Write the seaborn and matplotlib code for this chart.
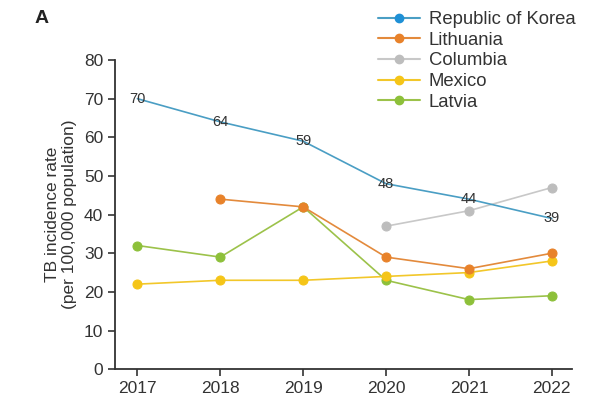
import matplotlib
matplotlib.use("Agg")
import matplotlib.pyplot as plt
from matplotlib.lines import Line2D
import seaborn as sns
import pandas as pd

years = [2017, 2018, 2019, 2020, 2021, 2022]
korea = [70, 64, 59, 48, 44, 39]
lithuania = [None, 44, 42, 29, 26, 30]
columbia = [None, None, None, 37, 41, 47]
mexico = [22, 23, 23, 24, 25, 28]
latvia = [32, 29, 42, 23, 18, 19]

series_names = ["Republic of Korea", "Lithuania", "Columbia", "Mexico", "Latvia"]
series_values = [korea, lithuania, columbia, mexico, latvia]
colors = ["#4A9EC4", "#E38A3C", "#C8C8C8", "#F2C72A", "#9CC24A"]
dot_colors = ["#1E90D6", "#E8822A", "#BDBDBD", "#F5C518", "#8DC03A"]

rows = []
for name, vals in zip(series_names, series_values):
    for y, v in zip(years, vals):
        if v is not None:
            rows.append({"year": y, "rate": v, "country": name})
df = pd.DataFrame(rows)

sns.set_style("ticks")
plt.rcParams["font.family"] = ["Liberation Sans", "DejaVu Sans"]

fig = plt.figure(figsize=(5.9, 4.03), dpi=100)
ax = fig.add_axes([0.195, 0.084, 0.774, 0.767])

# draw back to front so Korea sits on top
for name, lc, mc in list(zip(series_names, colors, dot_colors))[::-1]:
    sub = df[df["country"] == name]
    is_korea = name == "Republic of Korea"
    sns.lineplot(data=sub, x="year", y="rate", ax=ax, color=lc, linewidth=1.2,
                 marker=None if is_korea else "o", markersize=6.5,
                 markerfacecolor=mc, markeredgecolor=mc, legend=False)

for y, v in zip(years, korea):
    ax.text(y, v, str(v), ha="center", va="center", fontsize=10.5, color="#333333")

ax.set_xlim(2016.73, 2022.24)
ax.set_ylim(0, 80)
ax.set_xticks(years)
ax.set_yticks(range(0, 81, 10))
ax.tick_params(axis="both", labelsize=12.5, colors="#333333", length=5, width=1.2)
for s in ["left", "bottom"]:
    ax.spines[s].set_linewidth(1.3)
    ax.spines[s].set_color("#333333")
sns.despine(ax=ax)
ax.set_xlabel("")
ax.set_ylabel("TB incidence rate\n(per 100,000 population)", fontsize=12.5,
              color="#333333", labelpad=5)

handles = [Line2D([0], [0], color=lc, marker="o", markersize=6, markerfacecolor=mc,
                  markeredgecolor=mc, linewidth=1.5)
           for lc, mc in zip(colors, dot_colors)]
fig.legend(handles, series_names, loc="upper left", bbox_to_anchor=(0.612, 1.014),
           frameon=False, fontsize=13.3, handlelength=2.3, handletextpad=0.45,
           labelspacing=0.2, labelcolor="#333333")

fig.text(0.058, 0.955, "A", fontsize=14, fontweight="bold", color="#222222",
         ha="left", va="center")

fig.savefig("out.png", dpi=100)
